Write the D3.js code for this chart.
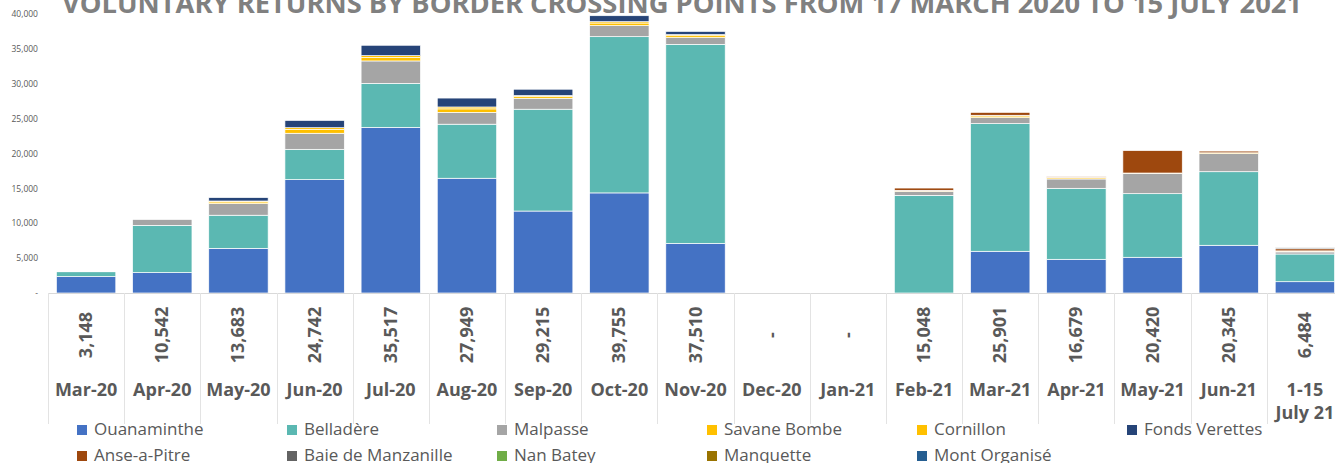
<!DOCTYPE html>
<html>
<head>
<meta charset="utf-8">
<script src="https://cdn.jsdelivr.net/npm/d3@7"></script>
<style>
  body { margin: 0; background: #fff; overflow: hidden; }
  svg { display: block; font-family: "Open Sans", sans-serif; }
</style>
</head>
<body>
<svg id="chart" width="1335" height="463"></svg>
<script>
// categories (last one wraps on two lines)
var months = ["Mar-20","Apr-20","May-20","Jun-20","Jul-20","Aug-20","Sep-20","Oct-20","Nov-20",
  "Dec-20","Jan-21","Feb-21","Mar-21","Apr-21","May-21","Jun-21","1-15|July 21"];

var totals = [3148,10542,13683,24742,35517,27949,29215,39755,37510,0,0,15048,25901,16679,20420,20345,6484];

var crossings = ["Ouanaminthe","Belladère","Malpasse","Savane Bombe","Cornillon","Fonds Verettes",
  "Anse-a-Pitre","Baie de Manzanille","Nan Batey","Manquette","Mont Organisé"];

var colors = ["#4472c4","#5bb8b2","#a5a5a5","#ffc000","#ffc000","#264478",
  "#9e480e","#636363","#70ad47","#997300","#255e91"];

// values per crossing, one per month
var ouanaminthe   = [2350,2920,6400,16250,23750,16450,11750,14350,7100,0,0,0,5980,4830,5120,6840,1620];
var belladere     = [700,6780,4750,4350,6300,7750,14600,22400,28550,0,0,14000,18300,10180,9120,10550,3970];
var malpasse      = [98,842,1660,2300,3220,1700,1570,1580,960,0,0,580,860,1340,2870,2590,300];
var savaneBombe   = [0,0,250,550,500,500,250,380,280,0,0,90,240,170,60,120,100];
var cornillon     = [0,0,130,250,260,270,130,190,150,0,0,50,100,80,30,0,50];
var fondsVerettes = [0,0,493,1042,1487,1279,915,855,470,0,0,0,0,0,0,0,0];
var anseAPitre    = [0,0,0,0,0,0,0,0,0,0,0,328,421,79,3220,245,300];
var baieManzanille= [0,0,0,0,0,0,0,0,0,0,0,0,0,0,0,0,144];
var nanBatey      = [0,0,0,0,0,0,0,0,0,0,0,0,0,0,0,0,0];
var manquette     = [0,0,0,0,0,0,0,0,0,0,0,0,0,0,0,0,0];
var montOrganise  = [0,0,0,0,0,0,0,0,0,0,0,0,0,0,0,0,0];

var yTicks = [0,5000,10000,15000,20000,25000,30000,35000,40000];

var seriesValues = [ouanaminthe,belladere,malpasse,savaneBombe,cornillon,fondsVerettes,
  anseAPitre,baieManzanille,nanBatey,manquette,montOrganise];

var table = months.map(function(m,i){
  var row = {month: m};
  crossings.forEach(function(c,j){ row[c] = seriesValues[j][i]; });
  return row;
});

var svg = d3.select("#chart");
var fmt = d3.format(",");

var x = d3.scaleBand()
  .domain(months)
  .range([48, 1343])
  .paddingInner(0.22)
  .paddingOuter(0.11);

var y = d3.scaleLinear()
  .domain([0, 40000])
  .range([293, 14]);

// title (partly cut at the top)
svg.append("text")
  .attr("x", 62)
  .attr("y", 13)
  .attr("textLength", 1240)
  .attr("lengthAdjust", "spacingAndGlyphs")
  .attr("font-size", 26)
  .attr("font-weight", "bold")
  .attr("fill", "#808080")
  .text("VOLUNTARY RETURNS BY BORDER CROSSING POINTS FROM 17 MARCH 2020 TO 15 JULY 2021");

// y axis labels
var gy = svg.append("g").attr("transform", "translate(40,0)")
  .call(d3.axisLeft(y).tickValues(yTicks).tickSize(0).tickPadding(2)
    .tickFormat(function(d){ return d === 0 ? "-" : fmt(d); }));
gy.select(".domain").remove();
gy.selectAll("text").attr("fill", "#595959").attr("font-size", 8.5)
  .attr("font-family", "Open Sans, sans-serif");

// stacked bars
var stack = d3.stack().keys(crossings);
var layers = stack(table);

svg.append("g").selectAll("g")
  .data(layers)
 .enter().append("g")
  .attr("fill", function(d,i){ return colors[i]; })
  .selectAll("rect")
  .data(function(d){ return d; })
 .enter().filter(function(d){ return d[1] - d[0] > 0; }).append("rect")
  .attr("x", function(d){ return x(d.data.month); })
  .attr("width", x.bandwidth())
  .attr("y", function(d){ return y(d[1]); })
  .attr("height", function(d){ return y(d[0]) - y(d[1]); })
  .attr("stroke", "#fff")
  .attr("stroke-width", 0.7);

// data table under the axis
var step = x.step();
var grid = svg.append("g");
grid.append("line")
  .attr("x1", 48).attr("x2", 1343)
  .attr("y1", y(0) + 0.5).attr("y2", y(0) + 0.5)
  .attr("stroke", "#d9d9d9");
months.forEach(function(m,i){
  var bx = x(m) - x.step() * x.paddingInner() / 2;
  grid.append("line")
    .attr("x1", Math.round(bx) + 0.5).attr("x2", Math.round(bx) + 0.5)
    .attr("y1", y(0)).attr("y2", 424)
    .attr("stroke", "#e3e3e3");
});

var cells = svg.append("g").selectAll("g")
  .data(months)
 .enter().append("g")
  .attr("transform", function(d){ return "translate(" + (x(d) + x.bandwidth()/2) + ",0)"; });

cells.append("text")
  .attr("transform", "translate(6,335) rotate(-90)")
  .attr("text-anchor", "middle")
  .attr("font-size", 18)
  .attr("font-weight", "bold")
  .attr("fill", "#595959")
  .text(function(d,i){ return totals[i] === 0 ? "-" : fmt(totals[i]); });

cells.append("text")
  .attr("text-anchor", "middle")
  .attr("font-size", 18)
  .attr("font-weight", "bold")
  .attr("fill", "#595959")
  .each(function(d){
    var parts = d.split("|");
    var t = d3.select(this);
    parts.forEach(function(p,k){
      t.append("tspan").attr("x", 0).attr("y", 396 + k * 23).text(p);
    });
  });

// legend
var legend = svg.append("g").selectAll("g")
  .data(crossings)
 .enter().append("g")
  .attr("transform", function(d,i){
    return "translate(" + (77 + (i % 6) * 210) + "," + (425 + Math.floor(i / 6) * 26) + ")";
  });
legend.append("rect")
  .attr("width", 10).attr("height", 10)
  .attr("fill", function(d,i){ return colors[i]; });
legend.append("text")
  .attr("x", 17).attr("y", 10)
  .attr("font-size", 17)
  .attr("fill", "#595959")
  .text(function(d){ return d; });
</script>
</body>
</html>
